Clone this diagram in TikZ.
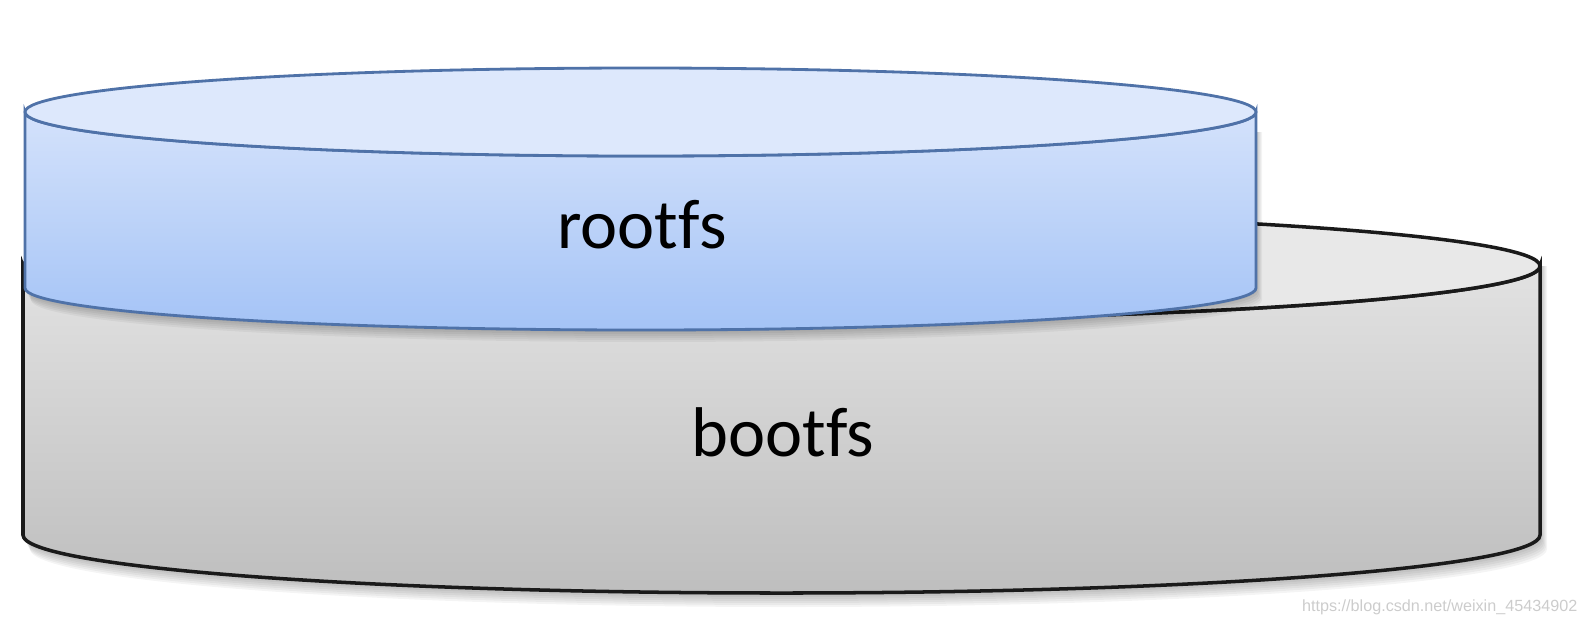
\documentclass[tikz,border=0pt]{standalone}
\usepackage{fontspec}
\setmainfont{Carlito}[Ligatures=NoCommon]
\newfontfamily\markfont{Liberation Sans}
\usepackage{tikz}
\usetikzlibrary{calc}

\definecolor{bootline}{HTML}{1A1A1A}
\definecolor{boottop}{HTML}{E8E8E8}
\definecolor{bootsideA}{HTML}{E2E2E2}
\definecolor{bootsideB}{HTML}{BEBEBE}
\definecolor{rootline}{HTML}{4F72A8}
\definecolor{roottop}{HTML}{DDE8FC}
\definecolor{rootsideA}{HTML}{D4E2FB}
\definecolor{rootsideB}{HTML}{A4C3F6}

\tikzset{
    bootside/.style={draw=bootline, line width=1pt, top color=bootsideA, bottom color=bootsideB},
    bootface/.style={draw=bootline, line width=1pt, fill=boottop},
    rootside/.style={draw=rootline, line width=0.8pt, top color=rootsideA, bottom color=rootsideB},
    rootface/.style={draw=rootline, line width=0.8pt, fill=roottop},
    softshadow/.style={fill=black, opacity=0.045},
    layerlabel/.style={font=\fontsize{20}{24}\selectfont, text=black}
}

\begin{document}
\begin{tikzpicture}[x=0.01cm, y=0.01cm]
        % Cylinder dimensions (pixels of the original picture, y upwards)
        \pgfmathsetmacro{\bootleft}{23}
        \pgfmathsetmacro{\bootright}{1540}
        \pgfmathsetmacro{\bootrx}{(\bootright-\bootleft)/2}
        \pgfmathsetmacro{\bootcx}{(\bootright+\bootleft)/2}
        \pgfmathsetmacro{\boottopy}{360}
        \pgfmathsetmacro{\bootboty}{91}

        \pgfmathsetmacro{\rootleft}{25}
        \pgfmathsetmacro{\rootright}{1256}
        \pgfmathsetmacro{\rootrx}{(\rootright-\rootleft)/2}
        \pgfmathsetmacro{\rootcx}{(\rootright+\rootleft)/2}
        \pgfmathsetmacro{\roottopy}{514}
        \pgfmathsetmacro{\rootboty}{338}

        \useasboundingbox (0,0) rectangle (1588,626);

        % Lower layer
        \begin{scope}
            \foreach \s in {2,4,...,14}
                \path[softshadow] (\bootleft+\s/2,\boottopy) -- (\bootleft+\s/2,\bootboty-\s)
                    arc[start angle=180, end angle=360, x radius=\bootrx, y radius=58]
                    -- (\bootright+\s/2,\boottopy) -- cycle;
            \path[bootside] (\bootleft,\boottopy) -- (\bootleft,\bootboty)
                arc[start angle=180, end angle=360, x radius=\bootrx, y radius=58]
                -- (\bootright,\boottopy)
                arc[start angle=0, end angle=-180, x radius=\bootrx, y radius=54] -- cycle;
            \path[bootface] (\bootcx,\boottopy) ellipse[x radius=\bootrx, y radius=54];
            \node[layerlabel] (bootfs) at (783,194) {bootfs};
        \end{scope}

        % Upper layer
        \begin{scope}
            \foreach \s in {2,4,...,12}
                \path[softshadow] (\rootleft+\s/2,\roottopy-20) -- (\rootleft+\s/2,\rootboty-\s)
                    arc[start angle=180, end angle=360, x radius=\rootrx, y radius=42]
                    -- (\rootright+\s/2,\roottopy-20) -- cycle;
            \path[rootside] (\rootleft,\roottopy) -- (\rootleft,\rootboty)
                arc[start angle=180, end angle=360, x radius=\rootrx, y radius=42]
                -- (\rootright,\roottopy)
                arc[start angle=0, end angle=-180, x radius=\rootrx, y radius=44] -- cycle;
            \path[rootface] (\rootcx,\roottopy) ellipse[x radius=\rootrx, y radius=44];
            \node[layerlabel] (rootfs) at (642,401) {rootfs};
        \end{scope}

        % Watermark
        \node[font=\markfont\fontsize{4.6}{5}\selectfont, text=black!20, anchor=east, inner sep=0pt] (mark) at (1578,19) {https://blog.csdn.net/weixin\_45434902};

    \end{tikzpicture}
\end{document}
